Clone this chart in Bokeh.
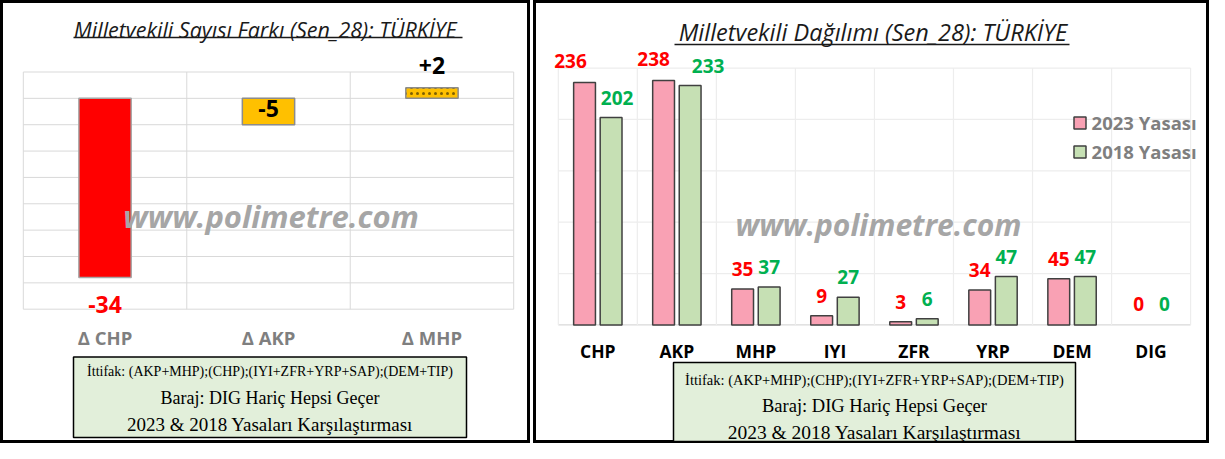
import numpy as np
from bokeh.plotting import figure
from bokeh.models import Range1d, ColumnDataSource, Legend, LegendItem
from bokeh.layouts import row
from bokeh.embed import file_html
from bokeh.resources import INLINE
from bokeh.core.properties import value

# ---------------- data ----------------
diff_parties = ["Δ CHP", "Δ AKP", "Δ MHP"]
diff_values = [-34, -5, 2]
diff_labels = ["-34", "-5", "+2"]

parties = ["CHP", "AKP", "MHP", "IYI", "ZFR", "YRP", "DEM", "DIG"]
seats_2023 = [236, 238, 35, 9, 3, 34, 45, 0]
seats_2018 = [202, 233, 37, 27, 6, 47, 47, 0]
series_names = ["2023 Yasası", "2018 Yasası"]

left_title = " Milletvekili Sayısı Farkı (Sen_28): TÜRKİYE"
right_title = " Milletvekili Dağılımı (Sen_28): TÜRKİYE"
watermark = "www.polimetre.com"
note_lines = ["İttifak: (AKP+MHP);(CHP);(IYI+ZFR+YRP+SAP);(DEM+TIP)",
              "Baraj: DIG Hariç Hepsi Geçer",
              "2023 & 2018 Yasaları Karşılaştırması"]
left_yticks = [-40, -35, -30, -25, -20, -15, -10, -5, 0, 5]
right_yticks = [0, 50, 100, 150, 200, 250]

SANS = value("Open Sans")
SERIF = value("Liberation Serif")


class Frame:
    """Maps panel pixels <-> data units so the plot area sits inside the panel."""
    def __init__(self, W, H, px_l, px_r, x_lo, x_hi, px_t, px_b, y_hi, y_lo):
        self.W, self.H = W, H
        self.sx = (x_hi - x_lo) / (px_r - px_l)
        self.x0 = x_lo - px_l * self.sx
        self.sy = (y_hi - y_lo) / (px_b - px_t)
        self.y0 = y_hi + px_t * self.sy

    def X(self, px):
        return self.x0 + px * self.sx

    def Y(self, py):
        return self.y0 - py * self.sy

    def fig(self):
        p = figure(width=self.W, height=self.H,
                   x_range=Range1d(self.X(0), self.X(self.W)),
                   y_range=Range1d(self.Y(self.H), self.Y(0)),
                   output_backend="svg", toolbar_location=None, tools="",
                   min_border=0, x_axis_location=None, y_axis_location=None)
        p.grid.visible = False
        p.outline_line_color = "black"
        p.outline_line_width = 5
        p.background_fill_color = "white"
        p.border_fill_color = "white"
        return p


def add_title(p, F, text, size, cx, cy, ul_l, ul_r, ul_y):
    p.text(x=[F.X(cx)], y=[F.Y(cy)], text=[text], text_font=SANS,
           text_font_style="italic", text_font_size=size, text_color="#1a1a1a",
           text_align="center", text_baseline="middle")
    p.segment(x0=[F.X(ul_l)], y0=[F.Y(ul_y)], x1=[F.X(ul_r)], y1=[F.Y(ul_y)],
              line_color="#1a1a1a", line_width=1.3)


def add_note(p, F, l, r, t, b, ys, sizes):
    p.quad(left=[F.X(l)], right=[F.X(r)], top=[F.Y(t)], bottom=[F.Y(b)],
           fill_color="#e2efda", line_color="black", line_width=1.5)
    cx = F.X((l + r) / 2)
    for txt, yy, fs in zip(note_lines, ys, sizes):
        p.text(x=[cx], y=[F.Y(yy)], text=[txt], text_font=SERIF,
               text_font_size=fs, text_color="black",
               text_align="center", text_baseline="middle")


# ---------------- left panel ----------------
F1 = Frame(530, 443, 22.8, 513.2, -0.5, 2.5, 71.5, 308.7, 5, -40)
p1 = F1.fig()
n1 = len(diff_parties)
idx1 = np.arange(n1)

# grid
p1.segment(x0=[-0.5] * len(left_yticks), x1=[n1 - 0.5] * len(left_yticks),
           y0=left_yticks, y1=left_yticks, line_color="#d9d9d9", line_width=1)
vb1 = np.arange(n1 + 1) - 0.5
p1.segment(x0=vb1, x1=vb1, y0=[left_yticks[0]] * len(vb1), y1=[left_yticks[-1]] * len(vb1),
           line_color="#d9d9d9", line_width=1)

src1 = ColumnDataSource(dict(
    x=idx1, top=diff_values,
    fill=["#ff0000", "#ffc000", "#ffc000"],
    line=["#a6a6a6", "#8c8c8c", "#8c8c8c"],
    hatch=[" ", " ", "."],
))
p1.vbar(x="x", top="top", bottom=0, width=0.32, source=src1,
        fill_color="fill", line_color="line", line_width=1.5,
        hatch_pattern="hatch", hatch_color="#7f6000", hatch_scale=6, hatch_weight=1.2)

# value labels (pixel offsets from bar end, positive = up)
lab_off1 = [-26.7, 16.5, 22.0]
lab_col1 = ["#ff0000", "black", "black"]
p1.text(x=idx1, y=[v + o * F1.sy for v, o in zip(diff_values, lab_off1)],
        text=diff_labels, text_color=lab_col1, text_font=SANS, text_font_style="bold",
        text_font_size="23px", text_align="center", text_baseline="middle")

# category labels
p1.text(x=idx1, y=[F1.Y(336.5)] * n1, text=diff_parties, text_color="#7f7f7f",
        text_font=SANS, text_font_style="bold", text_font_size="18.5px",
        text_align="center", text_baseline="middle")

# watermark
p1.text(x=[F1.X(270.5)], y=[F1.Y(215.5)], text=[watermark], text_color="#a6a6a6",
        text_font=SANS, text_font_style="bold italic", text_font_size="31px",
        text_align="center", text_baseline="middle")

add_title(p1, F1, left_title, "21.5px", 267.5, 28.5, 73.0, 462.0, 37.0)
add_note(p1, F1, 73, 466, 356.5, 437, [371.0, 397.5, 424.0], ["14px", "18px", "19px"])

# ---------------- right panel ----------------
F2 = Frame(676, 443, 24.8, 657.1, -0.5, 7.5, 67.6, 324.4, 250, 0)
p2 = F2.fig()
n2 = len(parties)
idx2 = np.arange(n2)

p2.segment(x0=[-0.5] * len(right_yticks), x1=[n2 - 0.5] * len(right_yticks),
           y0=right_yticks, y1=right_yticks,
           line_color=["#d9d9d9"] + ["#ededed"] * (len(right_yticks) - 1), line_width=1.2)
vb2 = np.arange(n2 + 1) - 0.5
p2.segment(x0=vb2, x1=vb2, y0=[right_yticks[0]] * len(vb2), y1=[right_yticks[-1]] * len(vb2),
           line_color="#ededed", line_width=1.2)

dodge = 0.168
bw = 0.276
src23 = ColumnDataSource(dict(x=idx2 - dodge, top=seats_2023,
                              line=["#404040" if v > 0 else None for v in seats_2023]))
src18 = ColumnDataSource(dict(x=idx2 + dodge, top=seats_2018,
                              line=["#404040" if v > 0 else None for v in seats_2018]))
r23 = p2.vbar(x="x", top="top", bottom=0, width=bw, source=src23,
              fill_color="#f9a1b4", line_color="line", line_width=1.5)
r18 = p2.vbar(x="x", top="top", bottom=0, width=bw, source=src18,
              fill_color="#c6e0b4", line_color="line", line_width=1.5)

# value labels: horizontal pixel nudges, centred ~20px above bar tops
dx23 = [-14, -10, 0, 0, 0, 0, 0, 1]
dx18 = [6, 18, 0, 0, 0, 0, 0, 0]
up23 = [21, 21, 20, 20, 20, 20, 20, 21]
up18 = [19, 20, 20, 20, 20, 20, 20, 21]
p2.text(x=[i - dodge + d * F2.sx for i, d in zip(idx2, dx23)],
        y=[v + u * F2.sy for v, u in zip(seats_2023, up23)],
        text=[str(v) for v in seats_2023], text_color="#ff0000", text_font=SANS,
        text_font_style="bold", text_font_size="19px", text_align="center", text_baseline="middle")
p2.text(x=[i + dodge + d * F2.sx for i, d in zip(idx2, dx18)],
        y=[v + u * F2.sy for v, u in zip(seats_2018, up18)],
        text=[str(v) for v in seats_2018], text_color="#00b050", text_font=SANS,
        text_font_style="bold", text_font_size="19px", text_align="center", text_baseline="middle")

# category labels
p2.text(x=idx2, y=[F2.Y(350.5)] * n2, text=parties, text_color="black",
        text_font=SANS, text_font_style="bold", text_font_size="17.5px",
        text_align="center", text_baseline="middle")

# watermark
p2.text(x=[F2.X(345.0)], y=[F2.Y(223.5)], text=[watermark], text_color="#a6a6a6",
        text_font=SANS, text_font_style="bold italic", text_font_size="30px",
        text_align="center", text_baseline="middle")

add_title(p2, F2, right_title, "23.5px", 342.5, 31.0, 141.0, 536.0, 44.0)
add_note(p2, F2, 140.0, 542.0, 362.0, 441.0, [379.5, 405.5, 432.0], ["14.5px", "18.5px", "19.5px"])

legend = Legend(items=[LegendItem(label=series_names[0], renderers=[r23]),
                       LegendItem(label=series_names[1], renderers=[r18])],
                location=(538.6, 443 - 110.1 - 54), orientation="vertical",
                glyph_width=15, glyph_height=15, label_height=25, label_standoff=5,
                spacing=4, padding=0, margin=0,
                label_text_font="Open Sans", label_text_font_style="bold",
                label_text_font_size="18.5px", label_text_color="#7f7f7f",
                background_fill_alpha=0, border_line_alpha=0)
p2.add_layout(legend)

layout = row(p1, p2, spacing=3)
open("out.html", "w").write(file_html(layout, INLINE))
